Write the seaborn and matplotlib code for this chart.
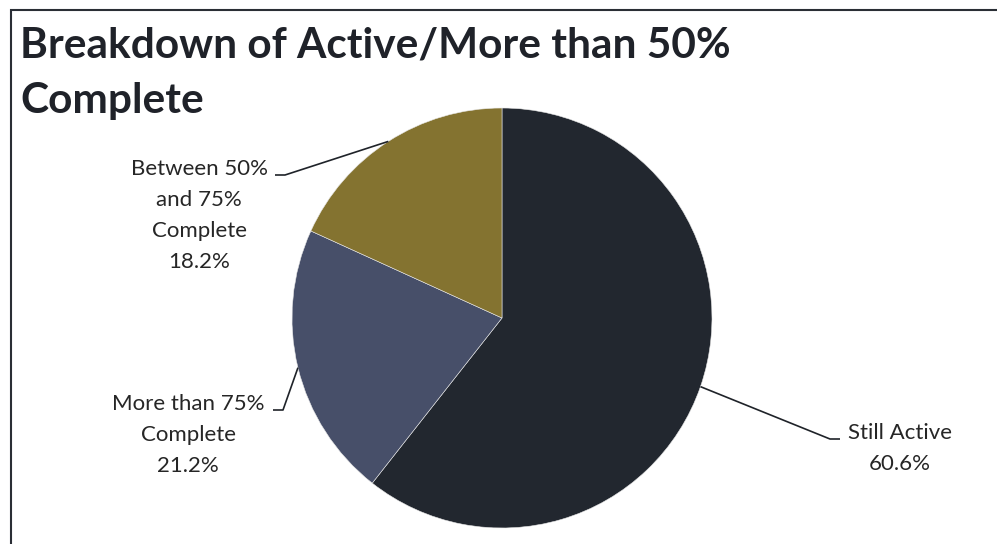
import numpy as np
import matplotlib
matplotlib.use("Agg")
import matplotlib.pyplot as plt
from matplotlib.patches import Rectangle
import seaborn as sns

# Share of projects by status
categories = ["Still Active", "More than 75% Complete", "Between 50% and 75% Complete"]
shares = [60.6, 21.2, 18.2]
label_lines = [
    ["Still Active", "60.6%"],
    ["More than 75%", "Complete", "21.2%"],
    ["Between 50%", "and 75%", "Complete", "18.2%"],
]
title_lines = ["Breakdown of Active/More than 50%", "Complete"]
palette = ["#22272f", "#474f69", "#847330"]

sns.set_theme(style="white")
plt.rcParams["font.family"] = ["Lato", "DejaVu Sans"]

W, H = 997, 544
fig = plt.figure(figsize=(W / 100, H / 100), dpi=100)
ax = fig.add_axes([0, 0, 1, 1])

cx, cy, r = 502, H - 318, 210
wedges, _ = ax.pie(
    shares, colors=palette, startangle=90, counterclock=False,
    center=(cx, cy), radius=r, frame=True,
    wedgeprops=dict(edgecolor="#e8e8e8", linewidth=0.4),
)
ax.set_xlim(0, W)
ax.set_ylim(0, H)
ax.set_aspect("equal")
ax.set_axis_off()

# label anchors: elbow point, line end, text centre x, first baseline y (pixels from top-left)
layout = [
    dict(elbow=(830, 439), end=(840, 439), tx=900, ty=439),
    dict(elbow=(283, 410), end=(273, 410), tx=188, ty=410),
    dict(elbow=(285, 175), end=(275, 175), tx=199, ty=175),
]
line_gap = 31
ink = "#262626"
for w, lines, lay in zip(wedges, label_lines, layout):
    mid = np.deg2rad((w.theta1 + w.theta2) / 2)
    ex, ey = cx + r * np.cos(mid), cy + r * np.sin(mid)
    xs = [ex, lay["elbow"][0], lay["end"][0]]
    ys = [ey, H - lay["elbow"][1], H - lay["end"][1]]
    ax.plot(xs, ys, color="#1f2329", lw=1.2, solid_capstyle="butt")
    for i, s in enumerate(lines):
        ax.text(lay["tx"], H - (lay["ty"] + i * line_gap), s, ha="center",
                va="baseline", fontsize=16, color=ink)

# title, left aligned
for i, s in enumerate(title_lines):
    ax.text(20, H - (57 + i * 56), s, ha="left", va="baseline",
            fontsize=30.5, fontweight="bold", color="#1f2229")

# outer frame
ax.add_patch(Rectangle((11, -20), W + 20, H - 10 + 20, fill=False,
                       edgecolor="#2a2e35", lw=1.5, clip_on=False))

fig.savefig("out.png", dpi=100, facecolor="white")
